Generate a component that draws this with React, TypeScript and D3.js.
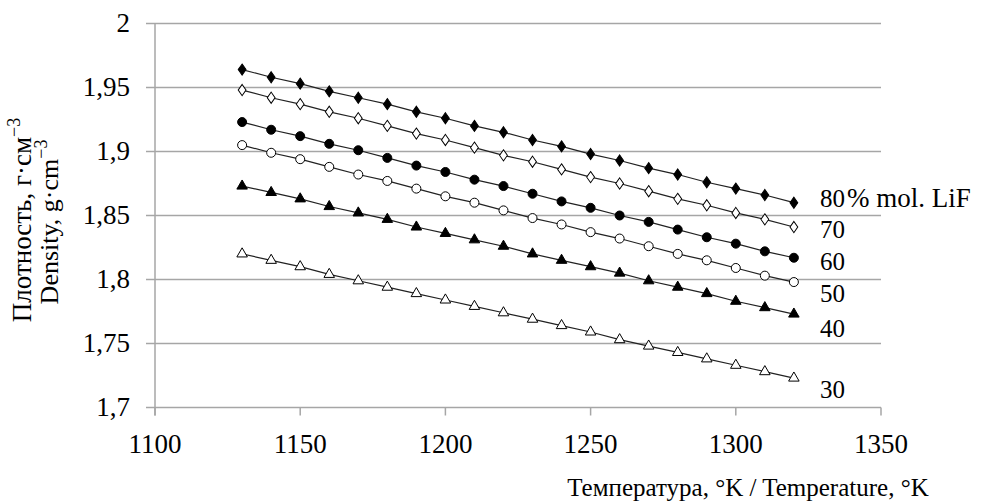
import React from "react";
import * as d3 from "d3";

const temps = [1130, 1140, 1150, 1160, 1170, 1180, 1190, 1200, 1210, 1220, 1230, 1240, 1250, 1260, 1270, 1280, 1290, 1300, 1310, 1320];

const lif80 = [1.964, 1.958, 1.953, 1.947, 1.942, 1.937, 1.931, 1.926, 1.920, 1.915, 1.909, 1.904, 1.898, 1.893, 1.887, 1.882, 1.876, 1.871, 1.866, 1.860];
const lif70 = [1.948, 1.942, 1.937, 1.931, 1.926, 1.920, 1.914, 1.909, 1.903, 1.897, 1.892, 1.886, 1.880, 1.875, 1.869, 1.863, 1.858, 1.852, 1.847, 1.841];
const lif60 = [1.923, 1.917, 1.912, 1.906, 1.901, 1.895, 1.889, 1.884, 1.878, 1.873, 1.867, 1.861, 1.856, 1.850, 1.845, 1.839, 1.833, 1.828, 1.822, 1.817];
const lif50 = [1.905, 1.899, 1.894, 1.888, 1.882, 1.877, 1.871, 1.865, 1.860, 1.854, 1.848, 1.843, 1.837, 1.832, 1.826, 1.820, 1.815, 1.809, 1.803, 1.798];
const lif40 = [1.873, 1.868, 1.863, 1.857, 1.852, 1.847, 1.841, 1.836, 1.831, 1.826, 1.820, 1.815, 1.810, 1.805, 1.799, 1.794, 1.789, 1.783, 1.778, 1.773];
const lif30 = [1.820, 1.815, 1.810, 1.804, 1.799, 1.794, 1.789, 1.784, 1.779, 1.774, 1.769, 1.764, 1.759, 1.753, 1.748, 1.743, 1.738, 1.733, 1.728, 1.723];

const xTicks = [1100, 1150, 1200, 1250, 1300, 1350];
const yTicks = [1.7, 1.75, 1.8, 1.85, 1.9, 1.95, 2];

type Marker = "diamondFill" | "diamondOpen" | "circleFill" | "circleOpen" | "triFill" | "triOpen";

const seriesNames = ["80", "70", "60", "50", "40", "30"];
const seriesValues = [lif80, lif70, lif60, lif50, lif40, lif30];
const seriesMarkers: Marker[] = ["diamondFill", "diamondOpen", "circleFill", "circleOpen", "triFill", "triOpen"];
const labelBaselines = [207, 238, 270, 302, 337, 398];

const FONT = "Liberation Serif, serif";
const FS = 25;
const TICK_FS = 27;

export default function App() {
  const width = 986;
  const height = 503;
  const x = d3.scaleLinear().domain([1100, 1350]).range([155, 881]);
  const y = d3.scaleLinear().domain([1.7, 2]).range([407.5, 23.5]);
  const fmt = (v: number) => String(+v.toFixed(2)).replace(".", ",");

  const line = d3
    .line<number>()
    .x((_, i) => x(temps[i]))
    .y((d) => y(d));

  const marker = (m: Marker, cx: number, cy: number, key: string) => {
    if (m === "diamondFill" || m === "diamondOpen") {
      const s = d3.symbol(d3.symbolDiamond, 40)();
      return (
        <path key={key} d={s || ""} transform={`translate(${cx},${cy}) scale(1.15,0.95)`}
          fill={m === "diamondFill" ? "#000" : "#fff"} stroke="#000" strokeWidth={0.9} />
      );
    }
    if (m === "circleFill" || m === "circleOpen") {
      return (
        <circle key={key} cx={cx} cy={cy} r={4.5}
          fill={m === "circleFill" ? "#000" : "#fff"} stroke="#000" strokeWidth={1} />
      );
    }
    const s = d3.symbol(d3.symbolTriangle, 48)();
    return (
      <path key={key} d={s || ""} transform={`translate(${cx},${cy})`}
        fill={m === "triFill" ? "#000" : "#fff"} stroke="#000" strokeWidth={1} />
    );
  };

  return (
    <svg width={width} height={height} style={{ position: "absolute", left: 0, top: 0, background: "#fff" }}>
      <rect x={0} y={0} width={width} height={height} fill="#fff" />
      {yTicks.map((t) => (
        <line key={"g" + t} x1={146} x2={881} y1={y(t)} y2={y(t)} stroke="#a6a6a6" strokeWidth={1.5} />
      ))}
      <line x1={x(1100)} x2={x(1100)} y1={y(2)} y2={y(1.7) + 8} stroke="#a6a6a6" strokeWidth={1.5} />
      {xTicks.map((t) => (
        <line key={"xt" + t} x1={x(t)} x2={x(t)} y1={y(1.7)} y2={y(1.7) + 8} stroke="#a6a6a6" strokeWidth={1.5} />
      ))}
      {yTicks.map((t) => (
        <text key={"yl" + t} x={130} y={y(t) + 8} textAnchor="end" fontFamily={FONT} fontSize={TICK_FS} fill="#000">
          {fmt(t)}
        </text>
      ))}
      {xTicks.map((t) => (
        <text key={"xl" + t} x={x(t)} y={453} textAnchor="middle" fontFamily={FONT} fontSize={TICK_FS} fill="#000">
          {t}
        </text>
      ))}
      {seriesValues.map((vals, si) => (
        <g key={"s" + si}>
          <path d={line(vals) || ""} fill="none" stroke="#222" strokeWidth={1.2} />
          {vals.map((v, i) => marker(seriesMarkers[si], x(temps[i]), y(v), `m${si}-${i}`))}
        </g>
      ))}
      {seriesNames.map((n, i) => (
        <text key={"lab" + n} x={820} y={labelBaselines[i]} fontFamily={FONT} fontSize={FS} fill="#000">
          {n}
        </text>
      ))}
      <text x={847} y={labelBaselines[0]} fontFamily={FONT} fontSize={27} fill="#000">
        % mol. LiF
      </text>
      <text x={748} y={496} textAnchor="middle" fontFamily={FONT} fontSize={FS} fill="#000">
        Температура, °K / Temperature, °K
      </text>
      <g transform="translate(31,220) rotate(-90)">
        <text x={0} y={0} textAnchor="middle" fontFamily={FONT} fontSize={27} fill="#000">
          Плотность, г·см<tspan fontSize={18} dy={-11}>−3</tspan>
        </text>
      </g>
      <g transform="translate(58,222) rotate(-90)">
        <text x={0} y={0} textAnchor="middle" fontFamily={FONT} fontSize={26} fill="#000">
          Density, g·cm<tspan fontSize={18} dy={-11}>−3</tspan>
        </text>
      </g>
    </svg>
  );
}
